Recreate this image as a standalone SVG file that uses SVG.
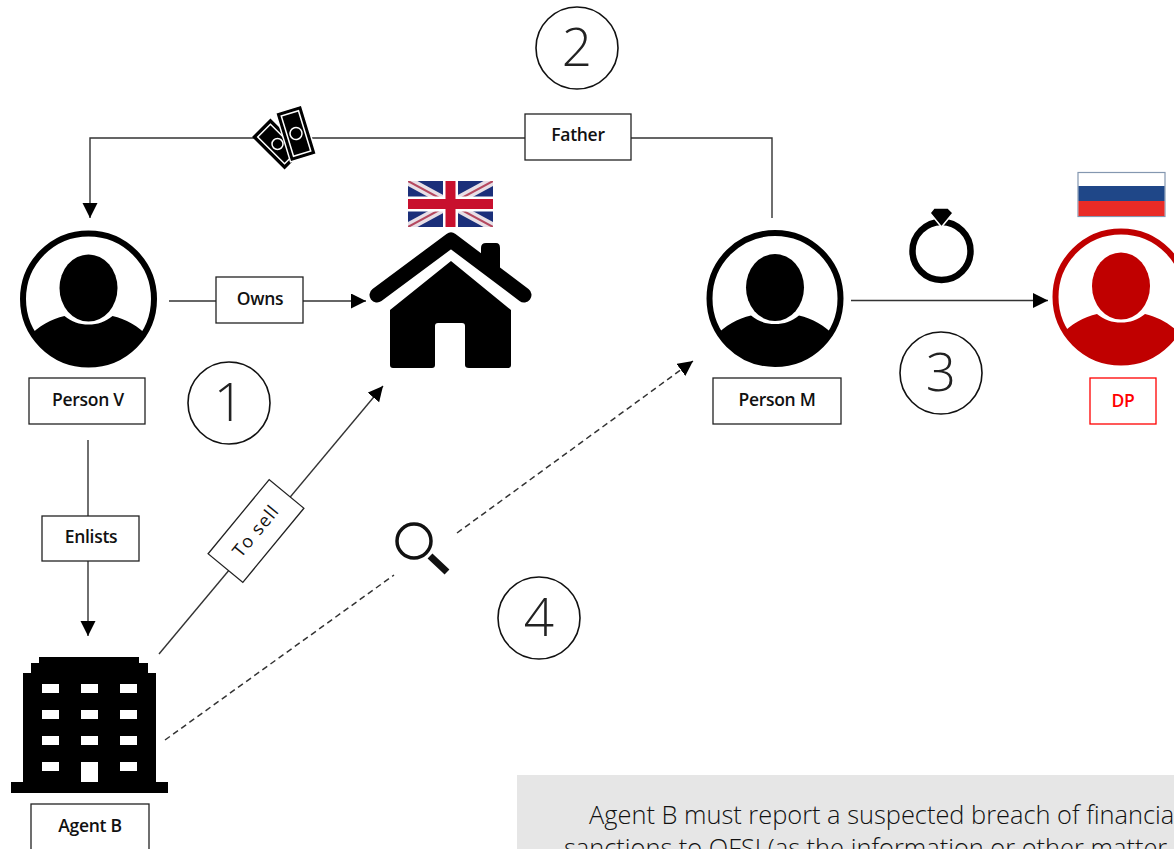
<svg xmlns="http://www.w3.org/2000/svg" width="1174" height="849" viewBox="0 0 1174 849">
<style>
.box{fill:#fff;stroke:#222;stroke-width:1.3}
.lbl{font-family:"Open Sans","Noto Sans","Liberation Sans",sans-serif;font-size:17.5px;font-weight:600;fill:#111;text-anchor:middle;letter-spacing:-.3px}
.num{font-family:"Open Sans","Noto Sans","Liberation Sans",sans-serif;font-size:53px;font-weight:300;fill:#222;text-anchor:middle}
.numc{fill:#fff;stroke:#111;stroke-width:1.6}
.ln{fill:none;stroke:#333;stroke-width:1.4}
.dash{fill:none;stroke:#333;stroke-width:1.5;stroke-dasharray:6 4}
.note{font-family:"Open Sans","Noto Sans","Liberation Sans",sans-serif;font-size:25.4px;font-weight:300;fill:#111}
</style>
<defs>
<marker id="arr" markerUnits="userSpaceOnUse" markerWidth="16" markerHeight="16" refX="15" refY="7.5" orient="auto"><path d="M0 0L15 7.5L0 15Z" fill="#000"/></marker>
<clipPath id="cV"><circle cx="0" cy="0" r="66"/></clipPath>
<g id="person">
<circle r="65.5" fill="#fff" stroke="currentColor" stroke-width="6"/>
<g clip-path="url(#cV)">
<path d="M-60 70V38C-50 27 -37 20 -24 17C-17 23 -9 25.500 0 25.500C9 25.500 17 23 24 17C37 20 50 27 60 38V70Z" fill="currentColor"/>
</g>
<ellipse cx="0" cy="-11" rx="29" ry="33.500" fill="currentColor"/>
</g>
<clipPath id="ukc"><rect x="408" y="181" width="85" height="46"/></clipPath>
</defs>

<g id="connectors">
<path class="ln" d="M525 138H90V218" marker-end="url(#arr)"/>
<path class="ln" d="M631 138H772V218"/>
<path class="ln" d="M169 301H216"/>
<path class="ln" d="M303 301H366" marker-end="url(#arr)"/>
<path class="ln" d="M851 300.500H1048" marker-end="url(#arr)"/>
<path class="ln" d="M88 440V516"/>
<path class="ln" d="M88 561V636" marker-end="url(#arr)"/>
<path class="ln" d="M159 654L383 386" marker-end="url(#arr)"/>
<path class="dash" d="M165 740L394 575"/>
<path class="dash" d="M457 533L693 361" marker-end="url(#arr)"/>
</g>

<g id="money">
<g transform="translate(277.500 144) rotate(-45)">
<rect x="-13" y="-23" width="26" height="46" fill="#000"/>
<rect x="-9" y="-19" width="18" height="38" fill="none" stroke="#fff" stroke-width="1.500"/>
<circle r="5.500" fill="none" stroke="#fff" stroke-width="1.500"/>
</g>
<g transform="translate(296 133.500) rotate(-17)">
<rect x="-13.500" y="-25.500" width="27" height="51" fill="#000" stroke="#fff" stroke-width="1.500"/>
<rect x="-9" y="-21" width="18" height="42" fill="none" stroke="#fff" stroke-width="1.500"/>
<circle r="6" fill="none" stroke="#fff" stroke-width="1.500"/>
</g>
</g>

<g id="father"><rect class="box" x="525" y="114" width="106" height="46"/><text class="lbl" x="578" y="141">Father</text></g>
<g id="owns"><rect class="box" x="216" y="277" width="87" height="46"/><text class="lbl" x="260" y="305">Owns</text></g>
<g id="enlists"><rect class="box" x="42" y="516" width="97" height="45"/><text class="lbl" x="91" y="543">Enlists</text></g>
<g id="tosell" transform="translate(256 531) rotate(-50.500)"><rect class="box" x="-48" y="-22.500" width="96" height="45"/><text class="lbl" x="0" y="6" style="font-weight:400;font-size:18px;letter-spacing:1.200px">To sell</text></g>

<g id="person-v"><use href="#person" x="88.500" y="299" color="#000"/><rect class="box" x="29" y="378" width="116" height="46"/><text class="lbl" x="88" y="406">Person V</text></g>
<g id="person-m"><use href="#person" x="775" y="298.500" color="#000"/><rect class="box" x="713" y="378" width="128" height="46"/><text class="lbl" x="777" y="406">Person M</text></g>
<g id="dp"><use href="#person" x="1121" y="297" color="#c00000"/><rect x="1090" y="378" width="66" height="46" fill="#fff" stroke="#f00" stroke-width="1.300"/><text class="lbl" x="1123" y="407" style="fill:#f00">DP</text>
<rect x="1078" y="172.500" width="87" height="44" fill="#fff" stroke="#8497b0" stroke-width="1.200"/><rect x="1078.500" y="186" width="86" height="15" fill="#1f4788"/><rect x="1078.500" y="201" width="86" height="15" fill="#e92b26"/></g>

<g id="house">
<g clip-path="url(#ukc)"><rect x="408" y="181" width="85" height="46" fill="#1b2f7a"/><path d="M408 181L493 227M493 181L408 227" stroke="#e8dfe6" stroke-width="9"/><path d="M408 181L493 227M493 181L408 227" stroke="#b5485f" stroke-width="2"/><path d="M450.500 181V227M408 204H493" stroke="#fff" stroke-width="15"/><path d="M450.500 181V227M408 204H493" stroke="#c8102e" stroke-width="10"/></g>
<path d="M481 248Q481 243 486 243H496Q500 243 500 248V276L481 262Z" fill="#000"/>
<path d="M377 295L451 240L524 295" fill="none" stroke="#000" stroke-width="15" stroke-linecap="round" stroke-linejoin="round"/>
<path d="M451 261L511 310V365Q511 368 508 368H469Q465 368 465 365V326Q465 323 462 323H438Q435 323 435 326V365Q435 368 432 368H393Q390 368 390 365V310Z" fill="#000"/>
</g>

<g id="ring"><circle cx="941.500" cy="251" r="29" fill="none" stroke="#000" stroke-width="6.500"/>
<path d="M930 213L934 208H948L953 213L941.500 227Z" fill="#000" stroke="#fff" stroke-width="1.500"/></g>

<g id="magnifier"><circle cx="414" cy="541" r="17" fill="#fff" stroke="#111" stroke-width="3.500"/><path d="M430 556L447 572" stroke="#111" stroke-width="7"/></g>

<g id="agent-b">
<path d="M39 657H139V663H148V673H156V782H168V793H11V782H23V673H31V663H39Z" fill="#000"/>
<g fill="#fff"><rect x="42" y="684" width="17" height="9"/><rect x="81" y="684" width="17" height="9"/><rect x="120" y="684" width="17" height="9"/><rect x="42" y="710" width="17" height="9"/><rect x="81" y="710" width="17" height="9"/><rect x="120" y="710" width="17" height="9"/><rect x="42" y="736" width="17" height="9"/><rect x="81" y="736" width="17" height="9"/><rect x="120" y="736" width="17" height="9"/><rect x="42" y="762" width="17" height="9"/><rect x="81" y="762" width="17" height="20"/><rect x="120" y="762" width="17" height="9"/></g>
<rect class="box" x="31" y="804" width="118" height="60"/><text class="lbl" x="90" y="832">Agent B</text>
</g>

<g id="n1"><circle class="numc" cx="229" cy="403" r="41"/><text class="num" x="229" y="421">1</text></g>
<g id="n2"><circle class="numc" cx="577" cy="48" r="41"/><text class="num" x="577" y="66">2</text></g>
<g id="n3"><circle class="numc" cx="941" cy="373" r="41"/><text class="num" x="941" y="391">3</text></g>
<g id="n4"><circle class="numc" cx="539" cy="618" r="41"/><text class="num" x="539" y="636">4</text></g>

<g id="note"><rect x="517" y="775" width="657" height="74" fill="#e6e6e6"/>
<text class="note" x="589" y="824">Agent B must report a suspected breach of financia</text>
<text class="note" x="564" y="857">sanctions to OFSI (as the information or other matter</text></g>
</svg>
